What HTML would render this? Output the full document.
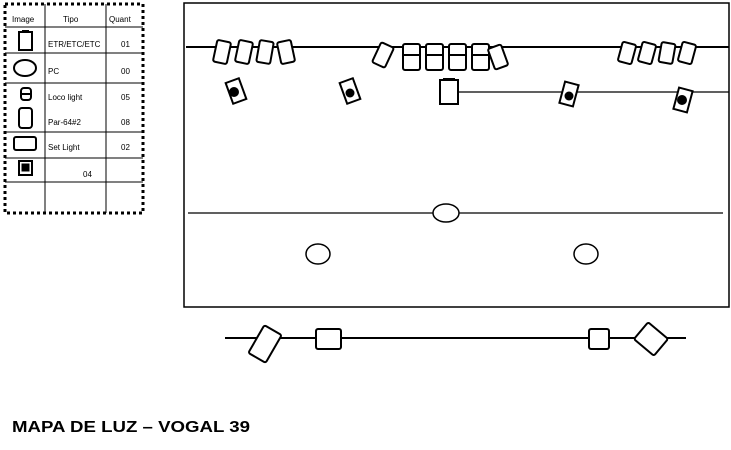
<!DOCTYPE html>
<html><head><style>body{margin:0;background:#fff}svg{display:block}</style></head><body>
<svg width="731" height="450" viewBox="0 0 731 450" xmlns="http://www.w3.org/2000/svg" font-family="Liberation Sans, sans-serif">
<g stroke="#000" fill="none">
<rect x="5" y="4" width="138" height="209" stroke-width="3" stroke-dasharray="3,3"/>
<line x1="45" y1="4" x2="45" y2="213" stroke-width="1"/>
<line x1="106" y1="4" x2="106" y2="213" stroke-width="1"/>
<g stroke-width="1">
<line x1="5" y1="27" x2="143" y2="27"/><line x1="5" y1="53" x2="143" y2="53"/>
<line x1="5" y1="83" x2="143" y2="83"/><line x1="5" y1="132" x2="143" y2="132"/>
<line x1="5" y1="158" x2="143" y2="158"/><line x1="5" y1="182" x2="143" y2="182"/>
</g>
<g stroke-width="2">
<rect x="19" y="32" width="13" height="18"/><line x1="22" y1="31" x2="29" y2="31"/>
<ellipse cx="25" cy="68" rx="11" ry="8"/>
<rect x="21" y="88" width="10" height="12" rx="3"/><line x1="21" y1="94" x2="31" y2="94"/>
<rect x="19" y="108" width="13" height="20" rx="3"/>
<rect x="14" y="137" width="22" height="13" rx="2"/>
<rect x="19" y="161" width="13" height="14"/>
</g>
<rect x="22" y="164" width="7" height="7" fill="#000"/>
<rect x="184" y="3" width="545" height="304" stroke-width="1.5"/>
<line x1="186" y1="47" x2="729" y2="47" stroke-width="2"/>
<line x1="458" y1="92" x2="729" y2="92" stroke-width="1.2"/>
<line x1="188" y1="213" x2="723" y2="213" stroke-width="1.2"/>
<g stroke-width="1.5" fill="#fff">
<ellipse cx="446" cy="213" rx="13" ry="9"/>
<ellipse cx="318" cy="254" rx="12" ry="10"/>
<ellipse cx="586" cy="254" rx="12" ry="10"/>
</g>
<g stroke-width="2" fill="#fff">
<rect x="-7" y="-11" width="14" height="22" rx="2" transform="translate(222,52) rotate(12)"/>
<rect x="-7" y="-11" width="14" height="22" rx="2" transform="translate(244,52) rotate(12)"/>
<rect x="-7" y="-11" width="14" height="22" rx="2" transform="translate(265,52) rotate(10)"/>
<rect x="-7" y="-11" width="14" height="22" rx="2" transform="translate(286,52) rotate(-12)"/>
<rect x="-7" y="-11" width="14" height="22" rx="2" transform="translate(383,55) rotate(25)"/>
<rect x="403" y="44" width="17" height="26" rx="2"/><line x1="403" y1="55" x2="420" y2="55"/>
<rect x="426" y="44" width="17" height="26" rx="2"/><line x1="426" y1="55" x2="443" y2="55"/>
<rect x="449" y="44" width="17" height="26" rx="2"/><line x1="449" y1="55" x2="466" y2="55"/>
<rect x="472" y="44" width="17" height="26" rx="2"/><line x1="472" y1="55" x2="489" y2="55"/>
<rect x="-7" y="-11" width="14" height="22" rx="2" transform="translate(498,57) rotate(-20)"/>
<rect x="-7" y="-10" width="14" height="20" rx="2" transform="translate(627,53) rotate(15)"/>
<rect x="-7" y="-10" width="14" height="20" rx="2" transform="translate(647,53) rotate(15)"/>
<rect x="-7" y="-10" width="14" height="20" rx="2" transform="translate(667,53) rotate(10)"/>
<rect x="-7" y="-10" width="14" height="20" rx="2" transform="translate(687,53) rotate(15)"/>
<rect x="-7" y="-11" width="14" height="22" transform="translate(236,91) rotate(-20)"/>
<rect x="-7" y="-11" width="14" height="22" transform="translate(350,91) rotate(-20)"/>
<rect x="-7" y="-11" width="14" height="22" transform="translate(569,94) rotate(15)"/>
<rect x="-7" y="-11" width="14" height="22" transform="translate(683,100) rotate(15)"/>
<rect x="440" y="80" width="18" height="24"/><line x1="443" y1="79" x2="455" y2="79"/>
</g>
<g fill="#000" stroke="none">
<circle cx="234" cy="92" r="5"/><circle cx="350" cy="93" r="4.5"/>
<circle cx="569" cy="96" r="4.5"/><circle cx="682" cy="100" r="5"/>
</g>
<line x1="225" y1="338" x2="686" y2="338" stroke-width="2"/>
<g stroke-width="2" fill="#fff">
<rect x="-10" y="-16" width="20" height="32" rx="2" transform="translate(265,344) rotate(30)"/>
<rect x="316" y="329" width="25" height="20" rx="2"/>
<rect x="589" y="329" width="20" height="20" rx="2"/>
<rect x="-13" y="-11" width="26" height="22" rx="2" transform="translate(651,339) rotate(40)"/>
</g>
</g>
<g font-size="8" fill="#000">
<text x="12" y="22">Image</text><text x="63" y="22">Tipo</text><text x="109" y="22">Quant</text>
<text x="48" y="47">ETR/ETC/ETC</text><text x="121" y="47">01</text>
<text x="48" y="74">PC</text><text x="121" y="74">00</text>
<text x="48" y="100">Loco light</text><text x="121" y="100">05</text>
<text x="48" y="125">Par-64#2</text><text x="121" y="125">08</text>
<text x="48" y="150">Set Light</text><text x="121" y="150">02</text>
<text x="83" y="177">04</text>
</g>
<text x="12" y="432" font-size="16" font-weight="bold" textLength="238" lengthAdjust="spacingAndGlyphs">MAPA DE LUZ – VOGAL 39</text>
</svg>
</body></html>
